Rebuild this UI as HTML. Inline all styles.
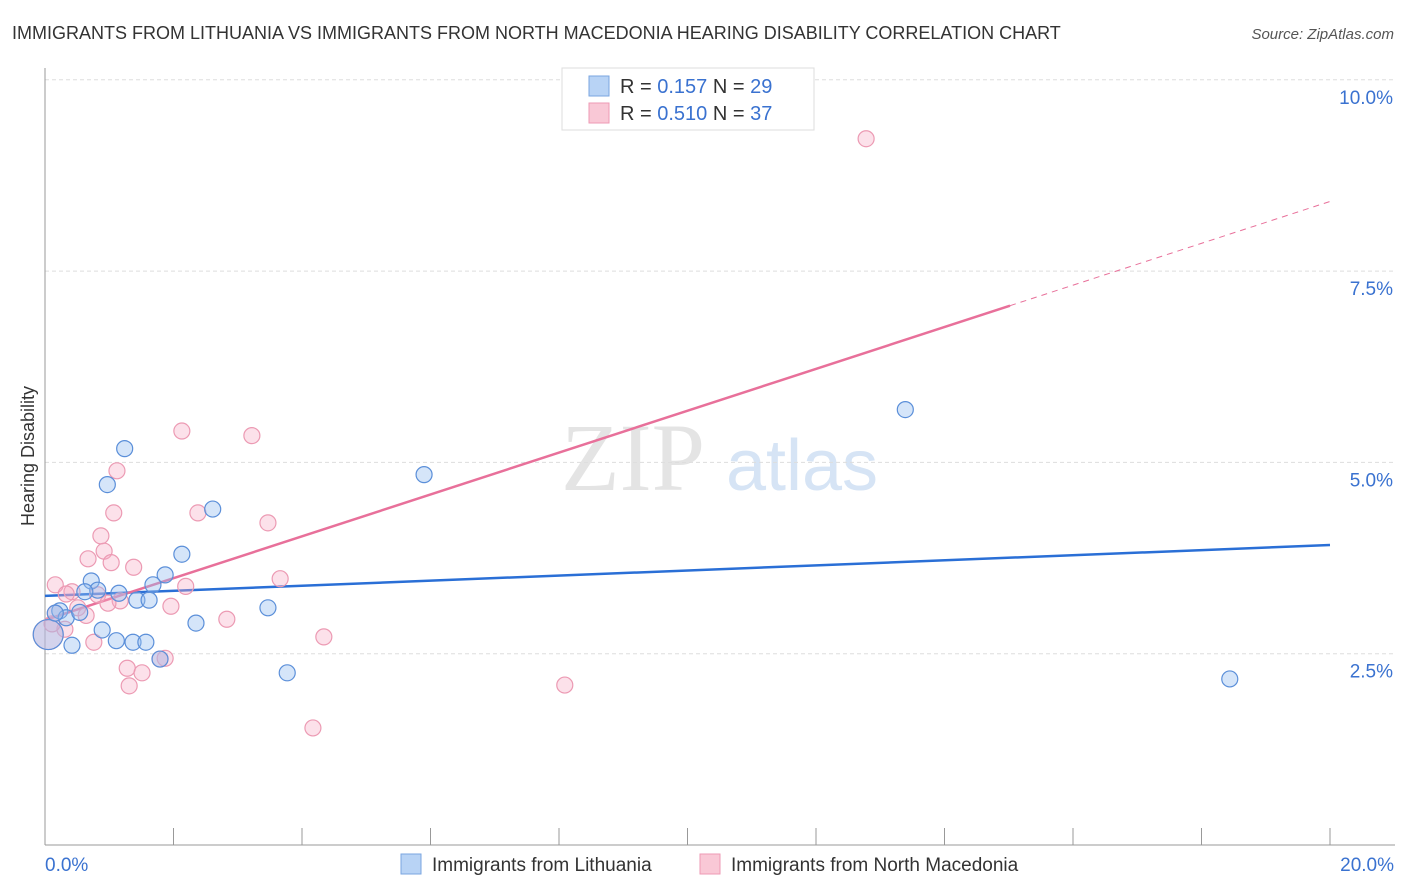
<!DOCTYPE html>
<html><head><meta charset="utf-8">
<style>
body{margin:0;background:#fff;font-family:"Liberation Sans",sans-serif;}
#wrap{position:relative;width:1406px;height:892px;overflow:hidden;}
</style></head>
<body>
<div id="wrap">
<svg id="svg" width="1406" height="892" xmlns="http://www.w3.org/2000/svg">
<text x="12" y="39" font-size="18" fill="#333">IMMIGRANTS FROM LITHUANIA VS IMMIGRANTS FROM NORTH MACEDONIA HEARING DISABILITY CORRELATION CHART</text>
<text x="1394" y="39" font-size="15" fill="#555" font-style="italic" text-anchor="end">Source: ZipAtlas.com</text>
<text x="0" y="0" transform="translate(34,456) rotate(-90)" font-size="18" fill="#333" text-anchor="middle">Hearing Disability</text>
<g>
<text x="633" y="490" font-family="Liberation Serif,serif" font-size="96" fill="#e4e4e4" text-anchor="middle">ZIP</text>
<text x="802" y="490" font-size="72" fill="#d6e4f5" text-anchor="middle">atlas</text>
</g>
<g id="grid"></g>
<g id="axes"></g>
<g id="lines"></g>
<g id="pts"></g>
<g>
<rect x="562" y="68" width="252" height="62" fill="#fff" stroke="#ddd"/>
<rect x="589" y="76" width="20" height="20" fill="#b8d3f5" stroke="#7aa6e0"/>
<rect x="589" y="103" width="20" height="20" fill="#f9c8d6" stroke="#ee9ab4"/>
<text x="620" y="93" font-size="20" fill="#333">R = <tspan fill="#3a72d0">0.157</tspan>   N = <tspan fill="#3a72d0">29</tspan></text>
<text x="620" y="120" font-size="20" fill="#333">R = <tspan fill="#3a72d0">0.510</tspan>   N = <tspan fill="#3a72d0">37</tspan></text>
</g>
<g>
<rect x="401" y="854" width="20" height="20" fill="#b8d3f5" stroke="#7aa6e0"/>
<text x="432" y="871" font-size="19" fill="#333">Immigrants from Lithuania</text>
<rect x="700" y="854" width="20" height="20" fill="#f9c8d6" stroke="#ee9ab4"/>
<text x="731" y="871" font-size="19" fill="#333">Immigrants from North Macedonia</text>
</g>
</svg>
</div>
<script>
const yTicks=[2.5,5.0,7.5,10.0];
const yTickLabels=["2.5%","5.0%","7.5%","10.0%"];
const xEndLabels=["0.0%","20.0%"];
const blueX=[1.24,0.97,2.61,5.90,13.39,2.13,1.87,1.68,0.72,0.82,0.62,1.15,1.43,1.62,0.23,0.33,3.47,0.89,1.11,1.37,1.57,0.42,2.35,1.79,3.77,18.44,0.05,0.16,0.54];
const blueY=[5.18,4.71,4.39,4.84,5.69,3.80,3.53,3.40,3.45,3.33,3.31,3.29,3.20,3.20,3.06,2.97,3.10,2.81,2.67,2.65,2.65,2.61,2.90,2.43,2.25,2.17,2.75,3.03,3.04];
const pinkX=[12.78,2.13,3.22,1.12,1.07,2.38,3.47,0.87,0.92,0.67,1.03,1.38,0.16,3.66,2.19,0.42,0.33,0.82,1.17,1.96,0.51,0.64,0.16,2.83,0.31,0.76,4.34,1.28,1.51,1.87,1.79,1.31,8.09,4.17,0.05,0.11,0.98];
const pinkY=[9.23,5.41,5.35,4.89,4.34,4.34,4.21,4.04,3.84,3.74,3.69,3.63,3.40,3.48,3.38,3.31,3.28,3.27,3.19,3.12,3.10,3.00,3.03,2.95,2.82,2.65,2.72,2.31,2.25,2.44,2.43,2.08,2.09,1.53,2.75,2.89,3.16];
const blueTrend=[3.255,3.92];
const pinkTrend=[2.94,8.41];
const pinkSolidEnd=15.02;
const NS="http://www.w3.org/2000/svg";
const X=v=>45+v/20*1285, Y=v=>845-v*76.52;
function mk(tag,attrs,parent){const e=document.createElementNS(NS,tag);for(const k in attrs)e.setAttribute(k,attrs[k]);document.getElementById(parent).appendChild(e);return e;}
yTicks.forEach((t,i)=>{
 const g=mk('line',{x1:45,x2:1395,y1:Y(t),y2:Y(t),stroke:'#ddd','stroke-dasharray':'4,3'},'grid');
 
 
 const l=mk('text',{x:1393,y:Y(t)+24,'font-size':19,fill:'#3a72d0','text-anchor':'end'},'grid');
 l.textContent=yTickLabels[i];
 
 
});
const ya=mk('line',{x1:45,x2:45,y1:68,y2:845,stroke:'#999'},'axes');


const xa=mk('line',{x1:45,x2:1395,y1:845,y2:845,stroke:'#999'},'axes');


for(let i=0;i<=10;i++){const t=mk('line',{x1:X(i*2),x2:X(i*2),y1:828,y2:845,stroke:'#999'},'axes');
 
 }
[[0,'start'],[20,'end']].forEach((d,i)=>{const t=mk('text',{x:i?1394:45,y:871,'font-size':19,fill:'#3a72d0','text-anchor':d[1]},'axes');t.textContent=xEndLabels[i];
 
 });
function dot(x,y,r,fill,stroke,name){const c=mk('circle',{cx:X(x),cy:Y(y),r:r,fill:fill,stroke:stroke,'stroke-width':1.2},'pts');
 
 }
pinkX.forEach((x,i)=>dot(x,pinkY[i],i==34?15:8,'rgba(245,168,194,0.35)','#ec9ab3','point-macedonia'));
blueX.forEach((x,i)=>dot(x,blueY[i],i==26?15:8,'rgba(150,190,240,0.4)','#5b8fd9','point-lithuania'));
const bl=mk('line',{x1:X(0),y1:Y(blueTrend[0]),x2:X(20),y2:Y(blueTrend[1]),stroke:'#2a6fd6','stroke-width':2.5},'lines');


const pyAt=x=>pinkTrend[0]+(pinkTrend[1]-pinkTrend[0])*x/20;
const pl=mk('line',{x1:X(0),y1:Y(pinkTrend[0]),x2:X(pinkSolidEnd),y2:Y(pyAt(pinkSolidEnd)),stroke:'#e8709a','stroke-width':2.5},'lines');


const pd=mk('line',{x1:X(pinkSolidEnd),y1:Y(pyAt(pinkSolidEnd)),x2:X(20),y2:Y(pinkTrend[1]),stroke:'#e8709a','stroke-width':1,'stroke-dasharray':'6,5'},'lines');


</script>
</body></html>
